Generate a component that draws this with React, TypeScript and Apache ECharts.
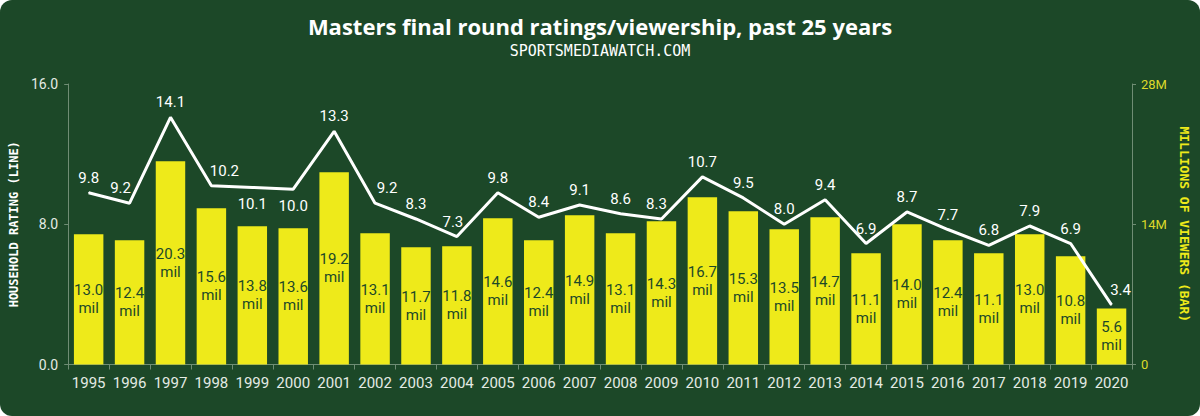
import React, { useEffect, useRef } from "react";
import * as echarts from "echarts";

const years = ["1995","1996","1997","1998","1999","2000","2001","2002","2003","2004","2005","2006","2007","2008","2009","2010","2011","2012","2013","2014","2015","2016","2017","2018","2019","2020"];
const ratings = [9.8, 9.2, 14.1, 10.2, 10.1, 10.0, 13.3, 9.2, 8.3, 7.3, 9.8, 8.4, 9.1, 8.6, 8.3, 10.7, 9.5, 8.0, 9.4, 6.9, 8.7, 7.7, 6.8, 7.9, 6.9, 3.4];
const viewers = [13.0, 12.4, 20.3, 15.6, 13.8, 13.6, 19.2, 13.1, 11.7, 11.8, 14.6, 12.4, 14.9, 13.1, 14.3, 16.7, 15.3, 13.5, 14.7, 11.1, 14.0, 12.4, 11.1, 13.0, 10.8, 5.6];

// label placement tweaks (style only)
const labelsBelow = ["1999", "2000"];
const labelShiftX: Record<string, number> = { "1996": -9, "1998": 13, "2002": 12, "2004": -4, "2009": -5, "2020": 9 };

const BG = "#1c4828";
const YELLOW = "#eeea1a";
const AXIS = "#6f8d74";
const NUMF = "Roboto, 'Noto Sans', sans-serif";
const MONO = "'DejaVu Sans Mono', 'Liberation Mono', monospace";

export default function App() {
  const ref = useRef<HTMLDivElement>(null);
  useEffect(() => {
    document.body.style.margin = "0";
    const chart = echarts.init(ref.current!, null, { renderer: "svg" });
    const lineData = ratings.map((v, i) =>
      labelsBelow.includes(years[i])
        ? { value: v, label: { position: "bottom", distance: 9 } }
        : v
    );
    chart.setOption({
      animation: false,
      backgroundColor: "transparent",
      graphic: [
        {
          type: "text",
          x: 600,
          y: 26,
          style: {
            text: "Masters final round ratings/viewership, past 25 years",
            fill: "#ffffff",
            font: "bold 22px 'Open Sans', Roboto, sans-serif",
            textAlign: "center",
            textVerticalAlign: "middle",
          },
        },
        {
          type: "text",
          x: 600,
          y: 51,
          style: {
            text: "SPORTSMEDIAWATCH.COM",
            fill: "#ffffff",
            font: "15px 'DejaVu Sans Mono', monospace",
            textAlign: "center",
            textVerticalAlign: "middle",
          },
        },
      ],
      grid: { left: 67, right: 68, top: 84, bottom: 51.5 },
      xAxis: {
        type: "category",
        data: years,
        axisLine: { lineStyle: { color: AXIS, width: 1 } },
        axisTick: { show: true, length: 5, interval: 0, lineStyle: { color: AXIS } },
        axisLabel: { color: "#e4ebe4", fontSize: 15, fontFamily: NUMF, margin: 11, interval: 0 },
      },
      yAxis: [
        {
          type: "value",
          min: 0,
          max: 16,
          interval: 8,
          name: "HOUSEHOLD RATING (LINE)",
          nameLocation: "middle",
          nameGap: 47,
          nameRotate: 90,
          nameTextStyle: { color: "#ffffff", fontSize: 12, fontWeight: "bold", fontFamily: MONO },
          axisLine: { show: true, lineStyle: { color: AXIS } },
          axisTick: { show: true, length: 4, lineStyle: { color: AXIS } },
          splitLine: { show: false },
          axisLabel: {
            color: "#e4ebe4",
            fontSize: 14,
            fontFamily: NUMF,
            margin: 10,
            formatter: (v: number) => v.toFixed(1),
          },
        },
        {
          type: "value",
          min: 0,
          max: 28,
          interval: 14,
          position: "right",
          name: "MILLIONS OF VIEWERS (BAR)",
          nameLocation: "middle",
          nameGap: 42,
          nameRotate: -90,
          nameTextStyle: { color: YELLOW, fontSize: 13, fontWeight: "bold", fontFamily: MONO },
          axisLine: { show: true, lineStyle: { color: AXIS } },
          axisTick: { show: true, length: 4, lineStyle: { color: AXIS } },
          splitLine: { show: false },
          axisLabel: {
            color: "#dcd92a",
            fontSize: 13,
            fontFamily: NUMF,
            margin: 9,
            formatter: (v: number) => (v === 0 ? "0" : v + "M"),
          },
        },
      ],
      series: [
        {
          type: "bar",
          yAxisIndex: 1,
          data: viewers,
          barWidth: "72%",
          itemStyle: { color: YELLOW },
          label: {
            show: true,
            position: "inside",
            color: BG,
            fontSize: 15,
            lineHeight: 18,
            fontFamily: NUMF,
            formatter: (p: any) => p.value.toFixed(1) + "\nmil",
          },
          z: 2,
        },
        {
          type: "line",
          yAxisIndex: 0,
          data: lineData,
          symbol: "circle",
          symbolSize: 1,
          showSymbol: true,
          itemStyle: { color: "#ffffff" },
          lineStyle: { color: "#ffffff", width: 3 },
          label: {
            show: true,
            position: "top",
            distance: 7,
            color: "#ffffff",
            fontSize: 15,
            fontFamily: NUMF,
            formatter: (p: any) => Number(p.value).toFixed(1),
          },
          labelLayout: (params: any) => {
            const shift = labelShiftX[years[params.dataIndex]];
            return { hideOverlap: false, dx: shift || 0 };
          },
          z: 3,
        },
      ],
    });
    return () => chart.dispose();
  }, []);
  return (
    <div style={{ width: 1200, height: 416, background: BG, borderRadius: 12, overflow: "hidden" }}>
      <div ref={ref} style={{ width: 1200, height: 416 }} />
    </div>
  );
}
